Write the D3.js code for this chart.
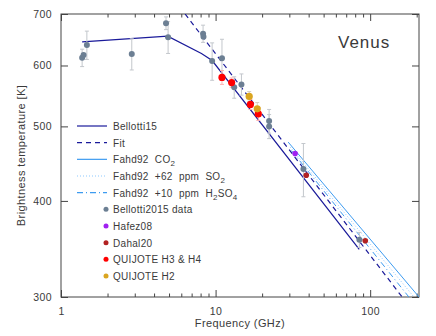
<!DOCTYPE html>
<html>
<head>
<meta charset="utf-8">
<script src="https://cdn.jsdelivr.net/npm/d3@7"></script>
<style>
body { margin: 0; background: #fff; }
text { font-family: "Liberation Sans", Arial, sans-serif; fill: #3a3a3a; }
</style>
</head>
<body>
<div id="chart"></div>
<script>
// model curves: [GHz, K]
const bellotti15 = [[1.37, 644], [4.9, 655], [8.1, 622], [9.5, 609], [85, 346]];
const fitLine = [[6.35, 700], [161, 300]];
const fahdCO2 = [[29.5, 477], [207, 300]];
const fahdSO2 = [[30.4, 470], [192, 300]];
const fahdH2SO4 = [[31, 465], [178, 300]];

// measurements: [GHz, K, error]
const bellottiData = [
  [1.37, 614, 16], [1.40, 619, 0], [1.47, 638, 27], [2.87, 621, 29],
  [4.78, 681, 13], [4.93, 653, 31], [8.3, 660, 17], [8.35, 654, 0],
  [9.5, 608, 34], [11.0, 613, 36], [13.2, 562, 18], [14.7, 567, 18],
  [22.2, 508, 18], [22.2, 500, 18], [37.0, 440, 35], [85.2, 356, 8]
];
const hafez08 = [[32.7, 461, 0]];
const dahal20 = [[38.6, 432, 0], [93, 355, 0]];
const quijoteH34 = [[11.0, 579, 12], [12.7, 570, 8], [16.8, 534, 8], [18.9, 519, 10]];
const quijoteH2 = [[16.5, 547, 8], [18.6, 527, 10]];

const xTicks = [1, 10, 100];
const xMinor = [2, 3, 4, 5, 6, 7, 8, 9, 20, 30, 40, 50, 60, 70, 80, 90, 200];
const yTicks = [300, 400, 500, 600, 700];

const width = 436, height = 336;
const margin = {top: 14, right: 17, bottom: 39, left: 61};
const graphWidth = width - margin.left - margin.right;
const graphHeight = height - margin.top - margin.bottom;

const svg = d3.select('#chart')
  .append('svg')
    .attr('width', width)
    .attr('height', height);

svg.append('clipPath').attr('id', 'clip')
  .append('rect').attr('width', graphWidth).attr('height', graphHeight);

const graph = svg.append('g')
  .attr('transform', `translate(${margin.left},${margin.top})`);

const x = d3.scaleLog().domain([1, 207]).range([0, graphWidth]);
const y = d3.scaleLog().domain([300, 700]).range([graphHeight, 0]);

const axisColor = '#444';

// axes with inward ticks
const xAxisGroup = graph.append('g').attr('transform', `translate(0,${graphHeight})`);
xAxisGroup.call(d3.axisBottom(x).tickValues(xTicks).tickFormat(d3.format('d'))
  .tickSize(-7).tickSizeOuter(0).tickPadding(11));
graph.append('g').attr('transform', `translate(0,${graphHeight})`)
  .call(d3.axisBottom(x).tickValues(xMinor).tickFormat('').tickSize(-3.5).tickSizeOuter(0));
graph.append('g')
  .call(d3.axisTop(x).tickValues(xTicks).tickFormat('').tickSize(-7).tickSizeOuter(0));
graph.append('g')
  .call(d3.axisTop(x).tickValues(xMinor).tickFormat('').tickSize(-3.5).tickSizeOuter(0));
const yAxisGroup = graph.append('g');
yAxisGroup.call(d3.axisLeft(y).tickValues(yTicks).tickFormat(d3.format('d'))
  .tickSize(-7).tickSizeOuter(0).tickPadding(9));
graph.append('g').attr('transform', `translate(${graphWidth},0)`)
  .call(d3.axisRight(y).tickValues(yTicks).tickFormat('').tickSize(-7).tickSizeOuter(0));

graph.selectAll('.domain').remove();
graph.selectAll('.tick line').attr('stroke', axisColor);
graph.selectAll('.tick text').attr('font-size', 10.5).attr('fill', '#3a3a3a')
  .attr('letter-spacing', 0.4)
  .attr('font-family', '"Liberation Sans", Arial, sans-serif');

graph.append('rect')
  .attr('width', graphWidth).attr('height', graphHeight)
  .attr('fill', 'none').attr('stroke', axisColor).attr('stroke-width', 1);

// labels
svg.append('text')
  .attr('x', margin.left + graphWidth / 2).attr('y', 327)
  .attr('text-anchor', 'middle').attr('font-size', 11).attr('letter-spacing', 0.4)
  .text('Frequency (GHz)');
svg.append('text')
  .attr('transform', `translate(25,${margin.top + graphHeight / 2}) rotate(-90)`)
  .attr('text-anchor', 'middle').attr('font-size', 11).attr('letter-spacing', 0.4)
  .text('Brightness temperature [K]');
svg.append('text')
  .attr('x', 338).attr('y', 48).attr('font-size', 17).attr('fill', '#505050')
  .attr('letter-spacing', 1)
  .text('Venus');

// model lines
const line = d3.line().x(d => x(d[0])).y(d => y(d[1]));
const lines = graph.append('g').attr('clip-path', 'url(#clip)');

const models = [
  {data: fahdSO2, color: '#8ec9ff', dash: '1,2', width: 1},
  {data: fahdH2SO4, color: '#3d9bf0', dash: '6,3,1,3', width: 1},
  {data: fahdCO2, color: '#3d9bf0', dash: null, width: 1},
  {data: fitLine, color: '#1a1a9a', dash: '5,4', width: 1.2},
  {data: bellotti15, color: '#1a1a9a', dash: null, width: 1.2}
];
models.forEach(m => {
  lines.append('path')
    .attr('d', line(m.data))
    .attr('fill', 'none')
    .attr('stroke', m.color)
    .attr('stroke-width', m.width)
    .attr('stroke-dasharray', m.dash);
});

// points with error bars
const groups = [
  {data: bellottiData, color: '#6c7f93', bar: '#c3c7cc', r: 3},
  {data: hafez08, color: '#a020f0', bar: '#c3c7cc', r: 2.8},
  {data: dahal20, color: '#b22222', bar: '#c3c7cc', r: 2.8},
  {data: quijoteH34, color: '#ff0000', bar: '#ffb0b0', r: 3.6},
  {data: quijoteH2, color: '#daa520', bar: '#d8d0c0', r: 3.6}
];
groups.forEach(gr => {
  const withErr = gr.data.filter(d => d[2] > 0);
  const eb = graph.append('g').attr('stroke', gr.bar).attr('stroke-width', 1);
  eb.selectAll('line.v').data(withErr).enter().append('line')
    .attr('x1', d => x(d[0])).attr('x2', d => x(d[0]))
    .attr('y1', d => y(d[1] + d[2])).attr('y2', d => y(d[1] - d[2]));
  eb.selectAll('line.t').data(withErr).enter().append('line')
    .attr('x1', d => x(d[0]) - 2).attr('x2', d => x(d[0]) + 2)
    .attr('y1', d => y(d[1] + d[2])).attr('y2', d => y(d[1] + d[2]));
  eb.selectAll('line.b').data(withErr).enter().append('line')
    .attr('x1', d => x(d[0]) - 2).attr('x2', d => x(d[0]) + 2)
    .attr('y1', d => y(d[1] - d[2])).attr('y2', d => y(d[1] - d[2]));
});
groups.forEach(gr => {
  graph.append('g').selectAll('circle')
    .data(gr.data)
    .enter()
    .append('circle')
    .attr('cx', d => x(d[0]))
    .attr('cy', d => y(d[1]))
    .attr('r', gr.r)
    .attr('fill', gr.color);
});

// legend
const legend = svg.append('g').attr('transform', 'translate(77,126)');
const legendLines = [
  {label: ['Bellotti15'], color: '#1a1a9a', dash: null},
  {label: ['Fit'], color: '#1a1a9a', dash: '5,4'},
  {label: ['Fahd92  CO', '2', ''], color: '#3d9bf0', dash: null},
  {label: ['Fahd92  +62  ppm  SO', '2', ''], color: '#8ec9ff', dash: '1,2'},
  {label: ['Fahd92  +10  ppm  H', '2', 'SO', '4'], color: '#3d9bf0', dash: '6,3,1,3'}
];
const legendDots = [
  {label: 'Bellotti2015 data', color: '#6c7f93'},
  {label: 'Hafez08', color: '#a020f0'},
  {label: 'Dahal20', color: '#b22222'},
  {label: 'QUIJOTE H3 & H4', color: '#ff0000'},
  {label: 'QUIJOTE H2', color: '#daa520'}
];
const rowH = 16.67;

legendLines.forEach((item, i) => {
  const row = legend.append('g').attr('transform', `translate(0,${i * rowH})`);
  row.append('line')
    .attr('x1', 0).attr('x2', 30).attr('y1', 0).attr('y2', 0)
    .attr('stroke', item.color).attr('stroke-width', 1.2)
    .attr('stroke-dasharray', item.dash);
  const t = row.append('text').attr('x', 36).attr('y', 4)
    .attr('font-size', 10).attr('letter-spacing', 0.3).style('white-space', 'pre');
  item.label.forEach((part, j) => {
    if (part === '') return;
    const sub = j % 2 === 1;
    t.append('tspan')
      .attr('dy', sub ? 3 : (j > 0 ? -3 : 0))
      .attr('font-size', sub ? 8 : 10)
      .text(part);
  });
});
legendDots.forEach((item, i) => {
  const row = legend.append('g')
    .attr('transform', `translate(0,${(i + legendLines.length) * rowH})`);
  row.append('circle').attr('cx', 29).attr('cy', 0).attr('r', 2.5)
    .attr('fill', item.color);
  row.append('text').attr('x', 36).attr('y', 4)
    .attr('font-size', 10).attr('letter-spacing', 0.3).style('white-space', 'pre')
    .text(item.label);
});
</script>
</body>
</html>
